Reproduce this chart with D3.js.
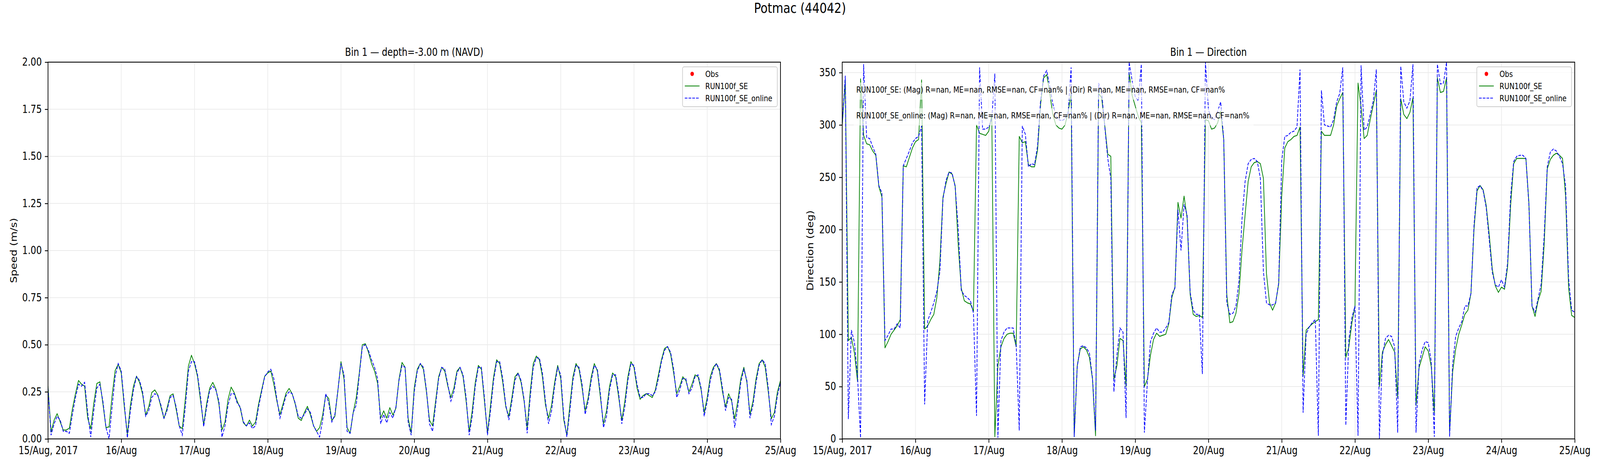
<!DOCTYPE html>
<html>
<head>
<meta charset="utf-8">
<script src="https://cdn.jsdelivr.net/npm/d3@7"></script>
<style>
    html, body { margin: 0; padding: 0; background: #fff; overflow: hidden; }
    text { font-family: "DejaVu Sans", sans-serif; fill: #000; }
</style>
</head>
<body>
<div id="chart"></div>
<script>
// ---- data (hourly model output, 15 Aug 2017 00:00 .. 25 Aug 2017 00:00 UTC) ----
const dayTickLabels = ["15/Aug, 2017", "16/Aug", "17/Aug", "18/Aug", "19/Aug", "20/Aug",
    "21/Aug", "22/Aug", "23/Aug", "24/Aug", "25/Aug"];

const speedSE = [
    0.28, 0.036, 0.10, 0.134, 0.09, 0.047, 0.047, 0.057, 0.16, 0.24, 0.31, 0.29,
    0.28, 0.11, 0.054, 0.19, 0.294, 0.303, 0.185, 0.06, 0.064, 0.23, 0.363, 0.396,
    0.35, 0.17, 0.025, 0.178, 0.28, 0.333, 0.30, 0.236, 0.127, 0.17, 0.246, 0.26,
    0.233, 0.17, 0.108, 0.163, 0.229, 0.239, 0.156, 0.068, 0.054, 0.214, 0.386, 0.444,
    0.40, 0.33, 0.20, 0.075, 0.19, 0.27, 0.30, 0.265, 0.185, 0.047, 0.09, 0.21,
    0.275, 0.246, 0.20, 0.163, 0.086, 0.068, 0.10, 0.068, 0.09, 0.185, 0.26, 0.333,
    0.35, 0.36, 0.29, 0.20, 0.13, 0.185, 0.243, 0.268, 0.24, 0.185, 0.11, 0.098,
    0.14, 0.173, 0.127, 0.07, 0.04, 0.06, 0.127, 0.233, 0.214, 0.098, 0.12, 0.258,
    0.41, 0.316, 0.06, 0.03, 0.14, 0.22, 0.35, 0.50, 0.505, 0.46, 0.40, 0.36,
    0.294, 0.11, 0.149, 0.11, 0.166, 0.127, 0.163, 0.316, 0.406, 0.38, 0.11, 0.032,
    0.27, 0.37, 0.40, 0.37, 0.25, 0.10, 0.07, 0.20, 0.33, 0.38, 0.36, 0.28,
    0.22, 0.27, 0.36, 0.38, 0.33, 0.20, 0.04, 0.15, 0.30, 0.39, 0.37, 0.20,
    0.03, 0.18, 0.33, 0.42, 0.40, 0.30, 0.17, 0.12, 0.22, 0.33, 0.35, 0.30,
    0.20, 0.06, 0.25, 0.40, 0.44, 0.42, 0.33, 0.18, 0.11, 0.18, 0.30, 0.39,
    0.32, 0.10, 0.02, 0.18, 0.33, 0.40, 0.37, 0.27, 0.15, 0.22, 0.33, 0.40,
    0.36, 0.22, 0.08, 0.15, 0.28, 0.35, 0.33, 0.22, 0.10, 0.20, 0.33, 0.41,
    0.38, 0.27, 0.21, 0.23, 0.24, 0.23, 0.22, 0.26, 0.34, 0.42, 0.48, 0.49,
    0.45, 0.35, 0.24, 0.28, 0.33, 0.31, 0.25, 0.29, 0.34, 0.33, 0.26, 0.14,
    0.22, 0.33, 0.38, 0.40, 0.36, 0.25, 0.17, 0.24, 0.20, 0.106, 0.20, 0.32,
    0.38, 0.30, 0.13, 0.20, 0.32, 0.40, 0.42, 0.38, 0.25, 0.107, 0.14, 0.25,
    0.31
];

const speedOnline = [
    0.27, 0.02, 0.08, 0.12, 0.10, 0.04, 0.04, 0.03, 0.13, 0.22, 0.29, 0.28,
    0.30, 0.14, 0.01, 0.15, 0.27, 0.29, 0.20, 0.06, 0.00, 0.17, 0.33, 0.40,
    0.36, 0.19, 0.005, 0.15, 0.26, 0.33, 0.31, 0.25, 0.12, 0.15, 0.22, 0.24,
    0.23, 0.18, 0.11, 0.15, 0.22, 0.23, 0.17, 0.07, 0.02, 0.17, 0.36, 0.41,
    0.41, 0.34, 0.22, 0.065, 0.17, 0.26, 0.28, 0.26, 0.20, 0.01, 0.07, 0.18,
    0.24, 0.24, 0.19, 0.17, 0.09, 0.07, 0.085, 0.055, 0.07, 0.17, 0.25, 0.33,
    0.355, 0.37, 0.32, 0.21, 0.11, 0.17, 0.23, 0.25, 0.24, 0.19, 0.12, 0.11,
    0.13, 0.16, 0.14, 0.07, 0.04, 0.01, 0.10, 0.24, 0.19, 0.09, 0.13, 0.26,
    0.40, 0.34, 0.04, 0.03, 0.14, 0.18, 0.34, 0.49, 0.50, 0.47, 0.42, 0.38,
    0.32, 0.08, 0.13, 0.085, 0.14, 0.11, 0.17, 0.31, 0.39, 0.38, 0.09, 0.02,
    0.25, 0.36, 0.40, 0.38, 0.26, 0.08, 0.04, 0.18, 0.32, 0.38, 0.37, 0.29,
    0.20, 0.25, 0.35, 0.38, 0.34, 0.22, 0.02, 0.12, 0.28, 0.38, 0.38, 0.22,
    0.02, 0.15, 0.31, 0.41, 0.41, 0.32, 0.18, 0.10, 0.20, 0.31, 0.35, 0.31,
    0.21, 0.03, 0.22, 0.38, 0.43, 0.43, 0.35, 0.20, 0.08, 0.15, 0.28, 0.38,
    0.34, 0.12, 0.01, 0.15, 0.31, 0.39, 0.38, 0.29, 0.13, 0.20, 0.31, 0.39,
    0.37, 0.24, 0.06, 0.12, 0.26, 0.34, 0.34, 0.24, 0.08, 0.17, 0.31, 0.40,
    0.39, 0.29, 0.22, 0.22, 0.24, 0.24, 0.23, 0.25, 0.32, 0.41, 0.47, 0.49,
    0.46, 0.37, 0.22, 0.26, 0.32, 0.32, 0.24, 0.27, 0.33, 0.34, 0.27, 0.12,
    0.20, 0.31, 0.37, 0.40, 0.37, 0.27, 0.15, 0.22, 0.21, 0.06, 0.17, 0.30,
    0.37, 0.31, 0.11, 0.18, 0.30, 0.39, 0.42, 0.40, 0.27, 0.076, 0.12, 0.23,
    0.30
];

const dirSE = [
    300, 342, 94, 97, 82, 55, 344, 290, 282, 281, 275, 271,
    241, 231, 87, 93, 100, 104, 108, 114, 261, 260, 269, 278,
    284, 286, 343, 105, 108, 114, 119, 135, 170, 231, 244, 255,
    253, 242, 185, 144, 132, 130, 129, 122, 300, 292, 291, 290,
    294, 310, 2, 70, 88, 96, 100, 101, 101, 88, 289, 283,
    284, 262, 260, 260, 276, 320, 345, 348, 330, 310, 300, 297,
    296, 300, 312, 330, 2, 70, 86, 88, 85, 78, 57, 3,
    330, 326, 300, 272, 270, 57, 70, 96, 94, 50, 350, 328,
    318, 308, 302, 50, 57, 80, 95, 101, 98, 99, 100, 110,
    135, 145, 226, 211, 232, 211, 138, 119, 117, 118, 116, 305,
    304, 296, 297, 302, 313, 286, 138, 111, 112, 120, 139, 181,
    214, 246, 260, 264, 265, 263, 249, 158, 130, 123, 130, 148,
    232, 278, 284, 286, 289, 290, 298, 60, 104, 107, 110, 112,
    114, 294, 290, 290, 290, 300, 318, 325, 331, 78, 88, 111,
    127, 340, 317, 287, 290, 305, 319, 333, 50, 83, 90, 95,
    89, 83, 39, 325, 310, 306, 312, 326, 32, 68, 78, 88,
    84, 69, 25, 345, 331, 332, 345, 6, 64, 86, 100, 109,
    119, 123, 139, 200, 237, 242, 238, 223, 195, 162, 146, 140,
    145, 143, 164, 223, 263, 268, 268, 268, 268, 225, 127, 117,
    132, 141, 186, 258, 267, 271, 273, 271, 268, 232, 144, 118,
    116
];

const dirOnline = [
    301, 347, 19, 104, 92, 60, 1, 358, 288, 287, 279, 272,
    242, 235, 94, 99, 105, 105, 110, 106, 261, 268, 275, 283,
    287, 289, 299, 33, 113, 121, 130, 141, 160, 229, 247, 255,
    254, 241, 201, 142, 137, 135, 132, 120, 22, 355, 296, 296,
    298, 306, 349, 1, 94, 102, 106, 106, 106, 89, 8, 299,
    291, 260, 263, 262, 280, 324, 347, 352, 337, 320, 309, 305,
    304, 306, 311, 355, 2, 69, 88, 89, 87, 82, 58, 8,
    340, 331, 299, 268, 249, 45, 80, 106, 102, 20, 360, 342,
    327, 323, 358, 6, 55, 93, 101, 106, 102, 102, 106, 111,
    138, 144, 219, 180, 224, 214, 140, 123, 119, 119, 62, 360,
    314, 307, 305, 313, 322, 286, 130, 119, 120, 127, 151, 211,
    246, 263, 267, 268, 265, 249, 160, 130, 128, 128, 130, 149,
    266, 289, 290, 293, 294, 298, 353, 25, 100, 107, 111, 114,
    3, 333, 300, 299, 298, 305, 322, 330, 355, 13, 95, 116,
    127, 3, 357, 295, 298, 310, 323, 353, 0, 80, 96, 99,
    98, 88, 6, 356, 322, 316, 323, 358, 6, 71, 85, 93,
    92, 74, 2, 358, 339, 340, 360, 2, 71, 98, 106, 112,
    127, 127, 139, 204, 240, 242, 237, 221, 190, 159, 147, 145,
    152, 145, 168, 232, 265, 270, 271, 271, 268, 223, 127, 121,
    134, 148, 195, 260, 274, 277, 275, 270, 263, 242, 153, 123,
    121
];

// observations are all missing at this station
const obsSpeed = [];
const obsDir = [];

const statLines = [
    "RUN100f_SE: (Mag) R=nan, ME=nan, RMSE=nan, CF=nan% | (Dir) R=nan, ME=nan, RMSE=nan, CF=nan%",
    "RUN100f_SE_online: (Mag) R=nan, ME=nan, RMSE=nan, CF=nan% | (Dir) R=nan, ME=nan, RMSE=nan, CF=nan%"
];

const T0 = Date.UTC(2017, 7, 15);
const times = speedSE.map((_, i) => new Date(T0 + i * 3600 * 1000));
const dayTicks = dayTickLabels.map((_, i) => new Date(T0 + i * 86400 * 1000));

// ---- layout (figure units are 5000 x 1200, scaled to whatever the window is) ----
const FIG_W = 5000, FIG_H = 1200;
const TOP = 159, PANEL_W = 2289, PANEL_H = 964;
const FS = 27.5, FS_SMALL = 21.5;

const viewW = window.innerWidth || FIG_W;
const viewH = window.innerHeight || FIG_H;

const svg = d3.select("#chart").append("svg")
    .attr("width", viewW)
    .attr("height", viewH)
    .attr("viewBox", `0 0 ${FIG_W} ${FIG_H}`)
    .attr("preserveAspectRatio", "none")
    .style("display", "block")
    .style("background", "#fff");

svg.append("text")
    .attr("x", FIG_W / 2)
    .attr("y", 33)
    .attr("text-anchor", "middle")
    .style("font-size", "36px")
    .text("Potmac (44042)");

class TimeSeriesPanel {
    constructor(root, opts) {
        this.root = root;
        this.opts = opts;
        this.initVis();
    }

    initVis() {
        const vis = this;
        const o = vis.opts;

        vis.g = vis.root.append("g")
            .attr("transform", `translate(${o.left}, ${TOP})`);

        vis.x = d3.scaleUtc().domain([dayTicks[0], dayTicks[dayTicks.length - 1]]).range([0, PANEL_W]);
        vis.y = d3.scaleLinear().domain(o.yDomain).range([PANEL_H, 0]);

        vis.g.append("clipPath").attr("id", o.id + "-clip")
            .append("rect").attr("width", PANEL_W).attr("height", PANEL_H);

        // grid
        const grid = vis.g.append("g");
        grid.selectAll(".vgrid").data(dayTicks).join("line")
            .attr("class", "vgrid")
            .attr("x1", d => vis.x(d)).attr("x2", d => vis.x(d))
            .attr("y1", 0).attr("y2", PANEL_H)
            .attr("stroke", "#ebebeb").attr("stroke-width", 2);
        grid.selectAll(".hgrid").data(o.yTicks).join("line")
            .attr("class", "hgrid")
            .attr("x1", 0).attr("x2", PANEL_W)
            .attr("y1", d => vis.y(d)).attr("y2", d => vis.y(d))
            .attr("stroke", "#ebebeb").attr("stroke-width", 2);

        // model lines
        const line = d3.line()
            .x((d, i) => vis.x(times[i]))
            .y(d => vis.y(d));

        const plot = vis.g.append("g").attr("clip-path", `url(#${o.id}-clip)`);
        plot.append("path")
            .datum(o.se)
            .attr("d", line)
            .attr("fill", "none")
            .attr("stroke", "green")
            .attr("stroke-width", 2.2)
            .attr("stroke-linejoin", "round");
        plot.append("path")
            .datum(o.online)
            .attr("d", line)
            .attr("fill", "none")
            .attr("stroke", "blue")
            .attr("stroke-width", 2.2)
            .attr("stroke-dasharray", "8.2,3.5");
        plot.selectAll(".obs").data(o.obs).join("circle")
            .attr("class", "obs")
            .attr("cx", d => vis.x(d.t))
            .attr("cy", d => vis.y(d.v))
            .attr("r", 5.5)
            .attr("fill", "red");

        // stats text with translucent white boxes
        if (o.stats) {
            o.stats.forEach((s, i) => {
                const tg = vis.g.append("g");
                const box = tg.append("rect");
                const t = tg.append("text")
                    .attr("x", 0.02 * PANEL_W - 2)
                    .attr("y", 78 + i * 66)
                    .style("font-size", FS_SMALL + "px")
                    .text(s);
                const w = t.node().getComputedTextLength();
                box.attr("x", 0.02 * PANEL_W - 10)
                    .attr("y", 78 + i * 66 - 26)
                    .attr("width", w + 21)
                    .attr("height", 44)
                    .attr("fill", "#fff")
                    .attr("fill-opacity", 0.65);
            });
        }

        // axes
        const xAxis = d3.axisBottom(vis.x)
            .tickValues(dayTicks)
            .tickFormat((d, i) => dayTickLabels[i])
            .tickSizeOuter(0).tickSize(9.7).tickPadding(9.7);
        const yAxis = d3.axisLeft(vis.y)
            .tickValues(o.yTicks)
            .tickFormat(o.yFormat)
            .tickSizeOuter(0).tickSize(9.7).tickPadding(9.7);

        const xg = vis.g.append("g").attr("transform", `translate(0, ${PANEL_H})`).call(xAxis);
        const yg = vis.g.append("g").call(yAxis);
        [xg, yg].forEach(a => {
            a.select(".domain").remove();
            a.selectAll(".tick line").attr("stroke", "#000").attr("stroke-width", 2.2);
            a.selectAll(".tick text")
                .style("font-size", FS + "px")
                .style("font-family", '"DejaVu Sans", sans-serif')
                .attr("fill", "#000");
        });

        // spines
        vis.g.append("rect")
            .attr("width", PANEL_W).attr("height", PANEL_H)
            .attr("fill", "none").attr("stroke", "#000").attr("stroke-width", 2.2);

        // titles
        vis.g.append("text")
            .attr("x", PANEL_W / 2)
            .attr("y", -16)
            .attr("text-anchor", "middle")
            .style("font-size", FS + "px")
            .text(o.title);

        vis.g.append("text")
            .attr("transform", "rotate(-90)")
            .attr("x", -PANEL_H / 2)
            .attr("y", o.yLabelOffset)
            .attr("text-anchor", "middle")
            .style("font-size", FS + "px")
            .text(o.yLabel);

        vis.drawLegend();
    }

    drawLegend() {
        const vis = this;
        const lw = 296, lh = 102;
        const lg = vis.g.append("g")
            .attr("transform", `translate(${PANEL_W - 10 - lw}, 12)`);
        lg.append("rect")
            .attr("width", lw).attr("height", lh)
            .attr("rx", 5).attr("ry", 5)
            .attr("fill", "#fff").attr("fill-opacity", 0.8)
            .attr("stroke", "#cccccc").attr("stroke-width", 2);

        const entries = [
            { label: "Obs", kind: "dot" },
            { label: "RUN100f_SE", kind: "line", color: "green", dash: null },
            { label: "RUN100f_SE_online", kind: "line", color: "blue", dash: "8.2,3.5" }
        ];
        entries.forEach((e, i) => {
            const cy = 18 + i * 31;
            if (e.kind === "dot") {
                lg.append("circle").attr("cx", 30).attr("cy", cy).attr("r", 5.5).attr("fill", "red");
            } else {
                lg.append("line")
                    .attr("x1", 7).attr("x2", 53).attr("y1", cy).attr("y2", cy)
                    .attr("stroke", e.color).attr("stroke-width", 2.2)
                    .attr("stroke-dasharray", e.dash);
            }
            lg.append("text")
                .attr("x", 71)
                .attr("y", cy + 8)
                .style("font-size", FS_SMALL + "px")
                .text(e.label);
        });
    }
}

new TimeSeriesPanel(svg, {
    id: "speed",
    left: 150,
    title: "Bin 1 \u2014 depth=-3.00 m (NAVD)",
    yLabel: "Speed (m/s)",
    yLabelOffset: -98,
    yDomain: [0, 2],
    yTicks: d3.range(0, 2.001, 0.25),
    yFormat: d3.format(".2f"),
    se: speedSE,
    online: speedOnline,
    obs: obsSpeed,
    stats: null
});

new TimeSeriesPanel(svg, {
    id: "dir",
    left: 2632,
    title: "Bin 1 \u2014 Direction",
    yLabel: "Direction (deg)",
    yLabelOffset: -90,
    yDomain: [0, 360],
    yTicks: d3.range(0, 351, 50),
    yFormat: d3.format("d"),
    se: dirSE,
    online: dirOnline,
    obs: obsDir,
    stats: statLines
});
</script>
</body>
</html>
